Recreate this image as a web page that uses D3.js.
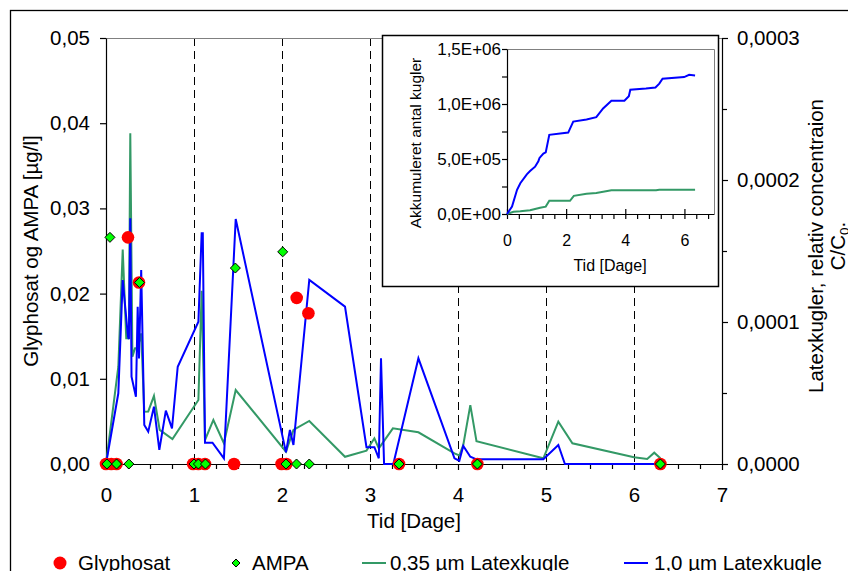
<!DOCTYPE html>
<html><head><meta charset="utf-8">
<script src="https://cdn.jsdelivr.net/npm/d3@7"></script>
<style>
body{margin:0;background:#fff;}
svg{display:block;font-family:"Liberation Sans",Arial,sans-serif;}
</style></head><body>
<svg id="c" width="848" height="571"></svg>
<script>
// ---------- DATA ----------
const glyDays   = [0, 0.06, 0.12, 0.25, 0.375, 0.99, 1.05, 1.125, 1.455, 1.995, 2.05, 2.167, 2.30, 3.33, 4.22, 6.30];
const glyValues = [0, 0, 0, 0.0266, 0.0213, 0, 0, 0, 0, 0, 0, 0.0195, 0.0177, 0, 0, 0];

const ampaDays   = [0.01, 0.045, 0.12, 0.26, 0.38, 1.0, 1.05, 1.13, 1.47, 2.008, 2.045, 2.165, 2.31, 3.33, 4.22, 6.30];
const ampaValues = [0, 0.0266, 0, 0, 0.0213, 0, 0, 0, 0.0230, 0.0249, 0, 0, 0, 0, 0, 0];

const blueDays   = [0, 0.14, 0.19, 0.25, 0.26, 0.276, 0.29, 0.34, 0.36, 0.375, 0.40, 0.435, 0.48, 0.545, 0.606, 0.68, 0.75, 0.815, 1.05, 1.087, 1.10, 1.125, 1.21, 1.34, 1.474, 2.045, 2.09, 2.13, 2.31, 2.716, 2.96, 3.05, 3.10, 3.125, 3.16, 3.265, 3.55, 3.96, 4.015, 4.06, 4.14, 4.21, 4.97, 5.14, 5.215, 6.30];
const blueValues = [0, 0.0000498, 0.0001296, 0.0000896, 0.000088, 0.000173, 0.0000615, 0.0000474, 0.0001108, 0.0000744, 0.0001366, 0.0000275, 0.0000228, 0.0000404, 0.00001, 0.0000376, 0.0000251, 0.0000685, 0.0001002, 0.0001625, 0.0001625, 0.000015, 0.000015, 0.000004, 0.0001725, 0.0000082, 0.000024, 0.0000134, 0.0001296, 0.0001108, 0.0000118, 0.0000118, 0.000004, 0.0000744, 0, 0, 0.0000744, 0.000004, 0.0000023, 0.0000127, 0.0000051, 0.0000033, 0.0000033, 0.0000134, 0, 0];

const greenDays   = [0, 0.14, 0.19, 0.23, 0.26, 0.276, 0.30, 0.33, 0.36, 0.40, 0.435, 0.48, 0.545, 0.61, 0.755, 1.05, 1.087, 1.125, 1.22, 1.34, 1.474, 2.045, 2.13, 2.31, 2.716, 2.96, 3.05, 3.10, 3.26, 3.55, 3.96, 4.015, 4.06, 4.14, 4.21, 4.97, 5.14, 5.30, 6.0, 6.15, 6.23, 6.30];
const greenValues = [0, 0.0000685, 0.000151, 0.0000885, 0.0000885, 0.000233, 0.0000756, 0.0000815, 0.0000815, 0.000092, 0.0000368, 0.000037, 0.0000479, 0.000024, 0.0000176, 0.0000451, 0.000122, 0.0000169, 0.000031, 0.0000146, 0.0000521, 0.0000087, 0.000024, 0.0000303, 0.0000051, 0.0000094, 0.0000181, 0.000011, 0.0000251, 0.0000223, 0.0000075, 0.000006, 0.0000134, 0.0000415, 0.000016, 0.000004, 0.0000298, 0.0000146, 0.0000047, 0.0000035, 0.000008, 0.000004];

// inset: cumulative number of spheres
const cumBlueDays   = [0, 0.17, 0.34, 0.45, 0.67, 0.78, 0.95, 1.06, 1.10, 1.23, 1.31, 1.43, 2.07, 2.24, 2.69, 3.02, 3.25, 3.53, 3.97, 4.12, 4.17, 4.70, 5.02, 5.15, 5.26, 5.99, 6.16, 6.36];
const cumBlueValues = [0, 67000, 220000, 280000, 360000, 390000, 430000, 480000, 510000, 550000, 560000, 720000, 740000, 840000, 860000, 880000, 960000, 1030000, 1030000, 1070000, 1130000, 1140000, 1150000, 1185000, 1230000, 1245000, 1265000, 1260000];
const cumGreenDays   = [0, 0.22, 0.45, 0.78, 1.12, 1.31, 1.43, 2.13, 2.26, 2.69, 3.02, 3.53, 5.04, 5.15, 6.36];
const cumGreenValues = [0, 20000, 25000, 35000, 57000, 67000, 120000, 120000, 165000, 185000, 190000, 215000, 215000, 220000, 220000];

const xTicks = [0, 1, 2, 3, 4, 5, 6, 7];
const leftTicks = [0, 0.01, 0.02, 0.03, 0.04, 0.05];
const rightTicks = [0, 0.0001, 0.0002, 0.0003];
const insetXTicks = [0, 2, 4, 6];
const insetYTicks = [0, 500000, 1000000, 1500000];
const dayLines = [1, 2, 3, 4, 5, 6];

const legendLabels = ["Glyphosat", "AMPA", "0,35 µm Latexkugle", "1,0 µm Latexkugle"];

// ---------- SETUP ----------
const BLUE = "#0000ff", GREEN = "#339966", RED = "#ff0000", LIME = "#00ff00";
const FS = 20.5, IFS = 15.5;
const svg = d3.select("#c");
const loc = d3.formatLocale({decimal: ",", thousands: ".", grouping: [3], currency: ["", ""]});
const f2 = loc.format(".2f"), f4 = loc.format(".4f");
const fe = d => {
  if (d === 0) return "0,0E+00";
  const e = Math.floor(Math.log10(d));
  const m = d / Math.pow(10, e);
  return loc.format(".1f")(m) + "E+" + String(e).padStart(2, "0");
};

const x = d3.scaleLinear([0, 7], [106, 722]);
const yL = d3.scaleLinear([0, 0.05], [464, 38]);
const yR = d3.scaleLinear([0, 0.0003], [464, 38]);

// outer chart border
svg.append("rect").attr("x", 10.5).attr("y", 10.5).attr("width", 900).attr("height", 700)
  .attr("fill", "none").attr("stroke", "#000").attr("stroke-width", 1.3);

// dashed day lines
svg.append("g").selectAll("line").data(dayLines).join("line")
  .attr("x1", d => Math.round(x(d)) + 0.5).attr("x2", d => Math.round(x(d)) + 0.5)
  .attr("y1", yL(0.05)).attr("y2", yL(0))
  .attr("stroke", "#000").attr("stroke-width", 1).attr("stroke-dasharray", "8,5");

// plot area border (grey)
svg.append("path").attr("d", `M${x(0)},${yL(0.05) + 0.5}H${x(7) + 0.5}V${yL(0)}`)
  .attr("fill", "none").attr("stroke", "#808080").attr("stroke-width", 1);

function styleAxis(g, fs) {
  g.selectAll(".domain").attr("stroke", "#000").attr("stroke-width", 1.2);
  g.selectAll(".tick line").attr("stroke", "#000").attr("stroke-width", 1.2);
  g.selectAll("text").attr("font-size", fs).attr("fill", "#000").attr("font-family", '"Liberation Sans", Arial, sans-serif');
}

// left axis
const gL = svg.append("g").attr("transform", `translate(${x(0)},0)`)
  .call(d3.axisLeft(yL).tickValues(leftTicks).tickFormat(f2).tickSize(6).tickPadding(10).tickSizeOuter(0));
styleAxis(gL, FS);

// right axis
const gR = svg.append("g").attr("transform", `translate(${x(7)},0)`)
  .call(d3.axisRight(yR).tickValues(rightTicks).tickFormat(f4).tickSize(6).tickPadding(9).tickSizeOuter(0));
styleAxis(gR, FS);
const gRm = svg.append("g").attr("transform", `translate(${x(7)},0)`)
  .call(d3.axisRight(yR).tickValues(d3.range(0.00005, 0.0003, 0.0001)).tickFormat("").tickSize(5).tickSizeOuter(0));
gRm.select(".domain").remove(); styleAxis(gRm, FS);

// bottom axis
const gB = svg.append("g").attr("transform", `translate(0,${yL(0)})`)
  .call(d3.axisBottom(x).tickValues(xTicks).tickFormat(d => d).tickSize(6).tickPadding(17).tickSizeOuter(0));
styleAxis(gB, FS);
const gBm = svg.append("g").attr("transform", `translate(0,${yL(0)})`)
  .call(d3.axisBottom(x).tickValues(d3.range(0.25, 7, 0.25).filter(v => v % 1 !== 0)).tickFormat("").tickSize(5).tickSizeOuter(0));
gBm.select(".domain").remove(); styleAxis(gBm, FS);

// lines
const lineR = d3.line().x(d => x(d[0])).y(d => yR(d[1]));
svg.append("path").datum(d3.zip(greenDays, greenValues)).attr("d", lineR)
  .attr("fill", "none").attr("stroke", GREEN).attr("stroke-width", 2).attr("stroke-linejoin", "miter");
svg.append("path").datum(d3.zip(blueDays, blueValues)).attr("d", lineR)
  .attr("fill", "none").attr("stroke", BLUE).attr("stroke-width", 2).attr("stroke-linejoin", "miter");

// markers
svg.append("g").selectAll("circle").data(d3.zip(glyDays, glyValues)).join("circle")
  .attr("cx", d => x(d[0])).attr("cy", d => yL(d[1])).attr("r", 6.3).attr("fill", RED);
const dia = s => `M0,${-s}L${s},0L0,${s}L${-s},0Z`;
svg.append("g").selectAll("path").data(d3.zip(ampaDays, ampaValues)).join("path")
  .attr("transform", d => `translate(${x(d[0])},${yL(d[1])})`).attr("d", dia(5))
  .attr("fill", LIME).attr("stroke", "#000").attr("stroke-width", 1);

// axis titles
svg.append("text").attr("x", 414).attr("y", 528).attr("text-anchor", "middle").attr("font-size", FS).text("Tid [Dage]");
svg.append("text").attr("transform", "translate(38,251) rotate(-90)").attr("text-anchor", "middle").attr("font-size", FS).text("Glyphosat og AMPA [µg/l]");
svg.append("text").attr("transform", "translate(823,246) rotate(-90)").attr("text-anchor", "middle").attr("font-size", FS).text("Latexkugler, relativ concentraion");
const t2 = svg.append("text").attr("transform", "translate(845,246) rotate(-90)").attr("text-anchor", "middle").attr("font-size", FS);
t2.append("tspan").text("C/C");
t2.append("tspan").attr("font-size", FS * 0.65).attr("dy", 4).text("0");
t2.append("tspan").attr("dy", -4).text(".");

// ---------- INSET ----------
svg.append("rect").attr("x", 382.5).attr("y", 35.5).attr("width", 336).attr("height", 251)
  .attr("fill", "#fff").attr("stroke", "#000").attr("stroke-width", 1.5);
const xi = d3.scaleLinear([0, 7], [507, 714]);
const yi = d3.scaleLinear([0, 1500000], [214, 49]);
svg.append("path").attr("d", `M${xi(0)},${yi(1500000) + 0.5}H${xi(7) + 0.5}V${yi(0)}`)
  .attr("fill", "none").attr("stroke", "#808080").attr("stroke-width", 1);
const giY = svg.append("g").attr("transform", `translate(${xi(0)},0)`)
  .call(d3.axisLeft(yi).tickValues(insetYTicks).tickFormat(fe).tickSize(5).tickPadding(1).tickSizeOuter(0));
styleAxis(giY, 17);
const giYm = svg.append("g").attr("transform", `translate(${xi(0)},0)`)
  .call(d3.axisLeft(yi).tickValues([250000, 750000, 1250000]).tickFormat("").tickSize(5).tickSizeOuter(0));
giYm.select(".domain").remove(); styleAxis(giYm, IFS);
const giX = svg.append("g").attr("transform", `translate(0,${yi(0)})`)
  .call(d3.axisBottom(xi).tickValues(insetXTicks).tickFormat(d => d).tickSize(5).tickPadding(16).tickSizeOuter(0));
styleAxis(giX, 16);
giX.selectAll(".tick line").attr("y1", -5);
const giXm = svg.append("g").attr("transform", `translate(0,${yi(0)})`)
  .call(d3.axisBottom(xi).tickValues(d3.range(0.4, 7.01, 0.4).filter(v => Math.abs(v / 2 - Math.round(v / 2)) > 0.01)).tickFormat("").tickSize(5).tickSizeOuter(0));
giXm.select(".domain").remove(); styleAxis(giXm, IFS);

const lineI = d3.line().x(d => xi(d[0])).y(d => yi(d[1]));
svg.append("path").datum(d3.zip(cumGreenDays, cumGreenValues)).attr("d", lineI)
  .attr("fill", "none").attr("stroke", GREEN).attr("stroke-width", 2);
svg.append("path").datum(d3.zip(cumBlueDays, cumBlueValues)).attr("d", lineI)
  .attr("fill", "none").attr("stroke", BLUE).attr("stroke-width", 2);

svg.append("text").attr("x", 610).attr("y", 271).attr("text-anchor", "middle").attr("font-size", 16).text("Tid [Dage]");
svg.append("text").attr("transform", "translate(421,143) rotate(-90)").attr("text-anchor", "middle").attr("font-size", IFS).text("Akkumuleret antal kugler");

// ---------- LEGEND ----------
const ly = 563, lb = 570;
svg.append("circle").attr("cx", 60).attr("cy", ly).attr("r", 6.5).attr("fill", RED);
svg.append("text").attr("x", 78).attr("y", lb).attr("font-size", FS).text(legendLabels[0]);
svg.append("path").attr("transform", `translate(236,${ly})`).attr("d", dia(4)).attr("fill", LIME).attr("stroke", "#000").attr("stroke-width", 1);
svg.append("text").attr("x", 252).attr("y", lb).attr("font-size", FS).text(legendLabels[1]);
svg.append("line").attr("x1", 362).attr("x2", 386).attr("y1", ly).attr("y2", ly).attr("stroke", GREEN).attr("stroke-width", 2);
svg.append("text").attr("x", 390).attr("y", lb).attr("font-size", FS).text(legendLabels[2]);
svg.append("line").attr("x1", 624).attr("x2", 648).attr("y1", ly).attr("y2", ly).attr("stroke", BLUE).attr("stroke-width", 2);
svg.append("text").attr("x", 654).attr("y", lb).attr("font-size", FS).text(legendLabels[3]);
</script>
</body></html>
